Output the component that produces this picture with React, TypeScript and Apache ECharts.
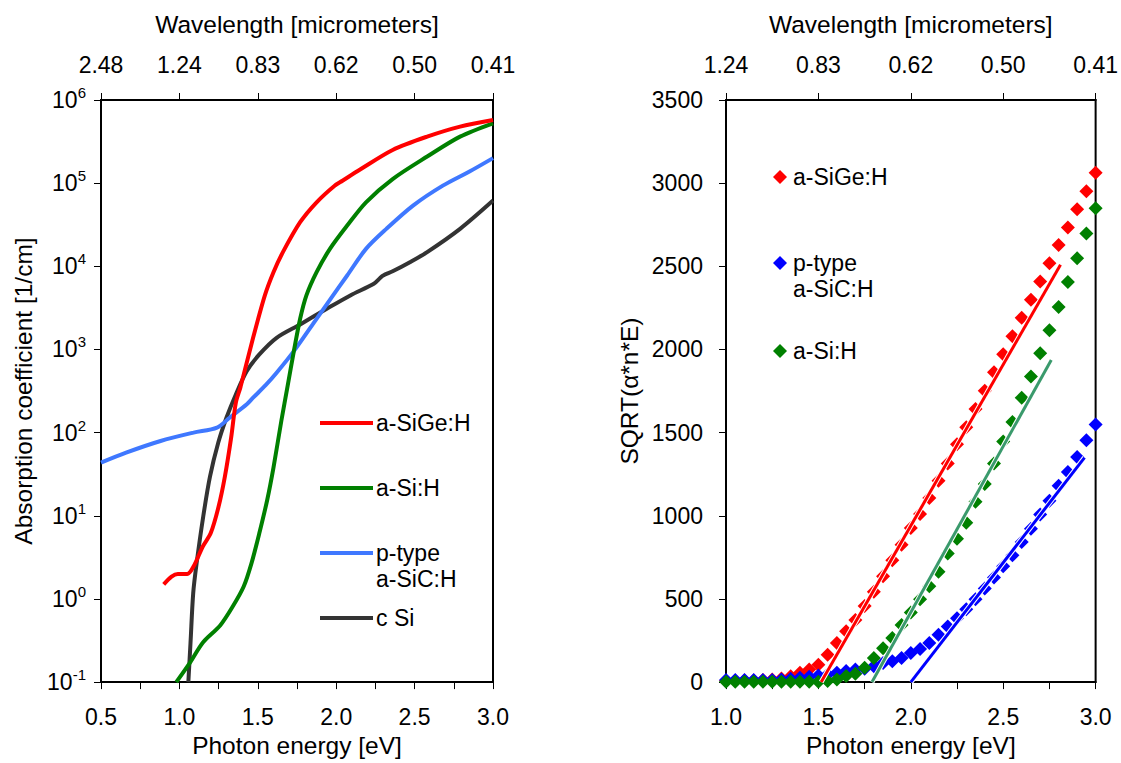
import React, { useEffect, useRef } from "react";
import * as echarts from "echarts";

// ---------- Left panel: absorption coefficient (1/cm) vs photon energy (eV) ----------
const siGeE = [0.9, 0.95, 0.99, 1.05, 1.09, 1.15, 1.2, 1.25, 1.29, 1.33, 1.36, 1.39, 1.47, 1.545, 1.6, 1.66, 1.77, 1.875, 1.99, 2.04, 2.15, 2.36, 2.58, 2.79, 3.0];
const siGeAlpha = [1.5, 1.86, 2.0, 2.0, 2.45, 4.3, 6.2, 12.9, 29.5, 87, 230, 355, 1380, 4470, 8500, 14800, 33900, 58900, 93300, 107000, 145000, 251000, 363000, 479000, 575000];

const siE = [0.98, 1.07, 1.15, 1.26, 1.34, 1.41, 1.46, 1.51, 1.56, 1.6, 1.65, 1.69, 1.73, 1.77, 1.81, 1.875, 1.96, 2.07, 2.19, 2.36, 2.58, 2.79, 3.0];
const siAlpha = [0.1, 0.174, 0.3, 0.48, 0.81, 1.41, 2.7, 6.2, 15.5, 38, 138, 363, 955, 2340, 4470, 8510, 16200, 30900, 58900, 112000, 209000, 363000, 525000];

const siCE = [0.5, 0.66, 0.88, 1.09, 1.24, 1.32, 1.43, 1.47, 1.55, 1.62, 1.73, 1.85, 1.98, 2.07, 2.19, 2.32, 2.49, 2.68, 2.85, 3.0];
const siCAlpha = [43.6, 57.5, 79.4, 100, 115, 151, 219, 263, 372, 525, 955, 2000, 4470, 7760, 16200, 28200, 53700, 93300, 138000, 200000];

const cSiE = [1.057, 1.071, 1.088, 1.11, 1.152, 1.195, 1.248, 1.3, 1.36, 1.43, 1.51, 1.62, 1.77, 1.94, 2.09, 2.24, 2.28, 2.3, 2.36, 2.47, 2.58, 2.79, 3.0];
const cSiAlpha = [0.1, 0.3, 1.17, 2.7, 9.8, 29.5, 76, 151, 288, 550, 871, 1380, 2000, 3090, 4470, 6170, 7240, 7760, 8710, 11200, 14800, 28200, 61700];

// top axis tick labels (wavelength in micrometers) for energies 0.5 .. 3.0 eV
const leftEnergyTicks = [0.5, 1.0, 1.5, 2.0, 2.5, 3.0];
const leftWavelengthLabels = ["2.48", "1.24", "0.83", "0.62", "0.50", "0.41"];
const rightEnergyTicks = [1.0, 1.5, 2.0, 2.5, 3.0];
const rightWavelengthLabels = ["1.24", "0.83", "0.62", "0.50", "0.41"];

// ---------- Right panel: SQRT(alpha*n*E) vs photon energy ----------
const photonE = [1.0, 1.05, 1.1, 1.15, 1.2, 1.25, 1.3, 1.35, 1.4, 1.45, 1.5, 1.55, 1.6, 1.65, 1.7, 1.75, 1.8, 1.85, 1.9, 1.95, 2.0, 2.05, 2.1, 2.15, 2.2, 2.25, 2.3, 2.35, 2.4, 2.45, 2.5, 2.55, 2.6, 2.65, 2.7, 2.75, 2.8, 2.85, 2.9, 2.95, 3.0];
const sqrtSiGe = [8, 8, 9, 10, 12, 15, 22, 35, 56, 76, 105, 165, 235, 305, 374, 458, 543, 637, 733, 826, 926, 1010, 1107, 1210, 1314, 1430, 1533, 1642, 1752, 1863, 1971, 2080, 2190, 2299, 2409, 2519, 2628, 2734, 2843, 2952, 3062];
const sqrtSiC = [12, 12, 12, 12, 12, 12, 16, 20, 26, 32, 40, 46, 56, 66, 76, 80, 96, 115, 125, 145, 175, 199, 235, 285, 334, 384, 438, 498, 563, 629, 697, 762, 842, 922, 1008, 1091, 1181, 1264, 1354, 1454, 1549];
const sqrtSi = [2, 2, 2, 2, 2, 2, 2, 2, 2, 2, 2, 6, 16, 36, 50, 86, 145, 203, 265, 344, 418, 498, 577, 663, 773, 862, 958, 1085, 1191, 1314, 1446, 1564, 1710, 1838, 1977, 2116, 2256, 2405, 2548, 2698, 2849];

// linear fits (Tauc lines): [E, value] end points
const fitSiGeE = [1.515, 2.81];
const fitSiGeV = [0, 2510];
const fitSiCE = [2.0, 2.94];
const fitSiCV = [0, 1350];
const fitSiE = [1.79, 2.76];
const fitSiV = [0, 1937];

const FONT = "Liberation Sans, Arial, sans-serif";
const zip = (a: number[], b: number[]) => a.map((x, i) => [x, b[i]]);

export default function App() {
  const ref = useRef<HTMLDivElement>(null);
  useEffect(() => {
    if (!ref.current) return;
    const chart = echarts.init(ref.current, undefined, { renderer: "svg" });

    const tickLabel = { color: "#000", fontSize: 23, fontFamily: FONT };
    const axisLine = { show: true, lineStyle: { color: "#000", width: 2 } };
    const axisTick = { show: true, inside: false, length: 7, lineStyle: { color: "#000", width: 1 } };
    const nameStyle = { color: "#000", fontSize: 24.5, fontFamily: FONT };

    const bottomX = (grid: number, min: number) => ({
      type: "value",
      gridIndex: grid,
      position: "bottom",
      min,
      max: 3.0,
      interval: 0.25,
      axisLine,
      axisTick,
      splitLine: { show: false },
      axisLabel: {
        ...tickLabel,
        margin: 23,
        formatter: (v: number) => (Math.abs(v * 2 - Math.round(v * 2)) < 1e-6 ? v.toFixed(1) : ""),
      },
      name: "Photon energy [eV]",
      nameLocation: "middle",
      nameGap: 50,
      nameTextStyle: nameStyle,
    });

    const topX = (grid: number, min: number, ticks: number[], labels: string[]) => ({
      type: "value",
      gridIndex: grid,
      position: "top",
      min,
      max: 3.0,
      interval: 0.5,
      axisLine,
      axisTick,
      splitLine: { show: false },
      axisLabel: {
        ...tickLabel,
        margin: 24,
        formatter: (v: number) => {
          const i = ticks.findIndex((t) => Math.abs(t - v) < 1e-6);
          return i >= 0 ? labels[i] : "";
        },
      },
      name: "Wavelength [micrometers]",
      nameLocation: "middle",
      nameGap: 63,
      nameTextStyle: nameStyle,
    });

    const lineSeries = (name: string, e: number[], a: number[], color: string) => ({
      name,
      type: "line",
      xAxisIndex: 0,
      yAxisIndex: 0,
      data: zip(e, a),
      showSymbol: false,
      symbol: "none",
      smooth: 0.3,
      clip: true,
      lineStyle: { color, width: 4 },
    });

    const scatterSeries = (name: string, v: number[], color: string) => ({
      name,
      type: "scatter",
      xAxisIndex: 2,
      yAxisIndex: 1,
      data: zip(photonE, v),
      symbol: "diamond",
      symbolSize: 14,
      itemStyle: { color, opacity: 1 },
    });

    const fitSeries = (e: number[], v: number[], color: string, halo: boolean) => ({
      type: "line",
      xAxisIndex: 2,
      yAxisIndex: 1,
      data: zip(e, v),
      symbol: "none",
      silent: true,
      z: halo ? 3 : 4,
      lineStyle: halo ? { color: "#fff", width: 5 } : { color, width: 3 },
    });

    const legendLine = (y: number, color: string) => ({
      type: "line",
      shape: { x1: 320, y1: y, x2: 373, y2: y },
      style: { stroke: color, lineWidth: 4 },
    });
    const legendText = (x: number, y: number, text: string) => ({
      type: "text",
      x,
      y,
      style: { text, fontSize: 23, fontFamily: FONT, fill: "#000", verticalAlign: "top", lineHeight: 26 },
    });
    const diamond = (cx: number, cy: number, color: string) => ({
      type: "polygon",
      shape: { points: [[cx, cy - 7], [cx + 7, cy], [cx, cy + 7], [cx - 7, cy]] },
      style: { fill: color },
    });

    chart.setOption({
      animation: false,
      backgroundColor: "#fff",
      grid: [
        { left: 101, top: 100, width: 392, height: 587, show: true, borderColor: "#000", borderWidth: 2, backgroundColor: "transparent" },
        { left: 726, top: 100, width: 372, height: 586, show: true, borderColor: "#000", borderWidth: 2, backgroundColor: "transparent" },
      ],
      xAxis: [
        bottomX(0, 0.5),
        topX(0, 0.5, leftEnergyTicks, leftWavelengthLabels),
        bottomX(1, 1.0),
        topX(1, 1.0, rightEnergyTicks, rightWavelengthLabels),
      ],
      yAxis: [
        {
          type: "log",
          gridIndex: 0,
          logBase: 10,
          min: 0.1,
          max: 1000000,
          splitNumber: 7,
          axisLine,
          axisTick,
          splitLine: { show: false },
          axisLabel: {
            margin: 15,
            formatter: (v: number) => `{b|10}{s|${Math.round(Math.log10(v))}}`,
            rich: {
              b: { fontSize: 23, fontFamily: FONT, color: "#000", lineHeight: 30 },
              s: { fontSize: 15, fontFamily: FONT, color: "#000", lineHeight: 15, verticalAlign: "top" },
            },
          },
          name: "Absorption coefficient [1/cm]",
          nameLocation: "middle",
          nameGap: 65,
          nameTextStyle: nameStyle,
        },
        {
          type: "value",
          gridIndex: 1,
          min: 0,
          max: 3500,
          interval: 500,
          axisLine,
          axisTick,
          splitLine: { show: false },
          axisLabel: { ...tickLabel, margin: 23, formatter: (v: number) => String(v) },
          name: "SQRT(α*n*E)",
          nameLocation: "middle",
          nameGap: 84,
          nameTextStyle: nameStyle,
        },
      ],
      series: [
        lineSeries("c Si", cSiE, cSiAlpha, "#333333"),
        lineSeries("p-type a-SiC:H", siCE, siCAlpha, "#3f78ff"),
        lineSeries("a-Si:H", siE, siAlpha, "#008000"),
        lineSeries("a-SiGe:H", siGeE, siGeAlpha, "#ff0000"),
        scatterSeries("a-SiGe:H (Tauc)", sqrtSiGe, "#ff0000"),
        scatterSeries("p-type a-SiC:H (Tauc)", sqrtSiC, "#0000ff"),
        scatterSeries("a-Si:H (Tauc)", sqrtSi, "#008000"),
        fitSeries(fitSiGeE, fitSiGeV, "#ff0000", true),
        fitSeries(fitSiGeE, fitSiGeV, "#ff0000", false),
        fitSeries(fitSiCE, fitSiCV, "#0000ff", true),
        fitSeries(fitSiCE, fitSiCV, "#0000ff", false),
        fitSeries(fitSiE, fitSiV, "#3a9a6c", true),
        fitSeries(fitSiE, fitSiV, "#3a9a6c", false),
      ],
      graphic: [
        legendLine(423, "#ff0000"),
        legendText(376, 410, "a-SiGe:H"),
        legendLine(488, "#008000"),
        legendText(376, 475, "a-Si:H"),
        legendLine(553, "#3f78ff"),
        legendText(376, 540, "p-type\na-SiC:H"),
        legendLine(618, "#333333"),
        legendText(376, 605, "c Si"),
        diamond(780, 177, "#ff0000"),
        legendText(793, 164, "a-SiGe:H"),
        diamond(780, 263, "#0000ff"),
        legendText(793, 250, "p-type\na-SiC:H"),
        diamond(780, 351, "#008000"),
        legendText(793, 338, "a-Si:H"),
      ],
    });
    return () => chart.dispose();
  }, []);
  return <div ref={ref} style={{ position: "fixed", left: 0, top: 0, width: 1121, height: 763, background: "#fff" }} />;
}
